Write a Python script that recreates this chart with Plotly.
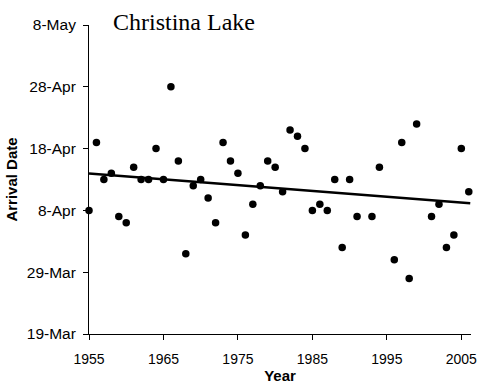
import numpy as np
import plotly.graph_objects as go

# Arrival year and arrival date (day of year, non-leap calendar)
years = [1955, 1956, 1957, 1958, 1959, 1960, 1961, 1962, 1963, 1964,
         1965, 1966, 1967, 1968, 1969, 1970, 1971, 1972, 1973, 1974,
         1975, 1976, 1977, 1978, 1979, 1980, 1981, 1982, 1983, 1984,
         1985, 1986, 1987, 1988, 1989, 1990, 1991, 1993, 1994, 1996,
         1997, 1998, 1999, 2001, 2002, 2003, 2004, 2005, 2006]
arrival_doy = [98, 109, 103, 104, 97, 96, 105, 103, 103, 108,
               103, 118, 106, 91, 102, 103, 100, 96, 109, 106,
               104, 94, 99, 102, 106, 105, 101, 111, 110, 108,
               98, 99, 98, 103, 92, 103, 97, 97, 105, 90,
               109, 87, 112, 97, 99, 92, 94, 108, 101]

tick_doy = [78, 88, 98, 108, 118, 128]
tick_labels = ["19-Mar", "29-Mar", "8-Apr", "18-Apr", "28-Apr", "8-May"]
x_ticks = [1955, 1965, 1975, 1985, 1995, 2005]

# Least-squares trend line
slope, intercept = np.polyfit(years, arrival_doy, 1)
trend_x = [1955, 2006.2]
trend_y = [slope * x + intercept for x in trend_x]

fig = go.Figure()
fig.add_trace(go.Scatter(
    x=years, y=arrival_doy, mode="markers",
    marker=dict(color="black", size=7.5, line=dict(width=0)),
    showlegend=False, cliponaxis=False,
))
fig.add_trace(go.Scatter(
    x=trend_x, y=trend_y, mode="lines",
    line=dict(color="black", width=2.5),
    showlegend=False,
))

sans = "Liberation Sans, Arial"

fig.update_layout(
    width=481, height=385,
    margin=dict(l=89, r=10, t=24.5, b=50.5),
    paper_bgcolor="white", plot_bgcolor="white",
    xaxis=dict(
        range=[1955, 2006.3], tickvals=x_ticks, automargin=False,
        ticks="outside", ticklen=5, tickwidth=1, tickcolor="black",
        showline=True, linecolor="black", linewidth=1,
        showgrid=False, zeroline=False,
        tickfont=dict(family=sans, size=14, color="black"),
        ticklabelstandoff=7,
        title=dict(text="<b>Year</b>", standoff=4,
                   font=dict(family=sans, size=15, color="black")),
    ),
    yaxis=dict(
        range=[78, 128], tickvals=tick_doy, ticktext=tick_labels, automargin=False,
        ticks="outside", ticklen=5, tickwidth=1, tickcolor="black",
        showline=True, linecolor="black", linewidth=1,
        showgrid=False, zeroline=False,
        tickfont=dict(family=sans, size=15.5, color="black"),
        ticklabelstandoff=4,
        title=dict(text="<b>Arrival Date</b>", standoff=5,
                   font=dict(family=sans, size=15, color="black")),
    ),
    annotations=[dict(
        text="Christina Lake", xref="paper", yref="paper",
        x=0.058, y=1.01, xanchor="left", yanchor="middle", showarrow=False,
        font=dict(family="Liberation Serif, Times New Roman", size=24, color="black"),
    )],
)

fig.write_html("out.html")
